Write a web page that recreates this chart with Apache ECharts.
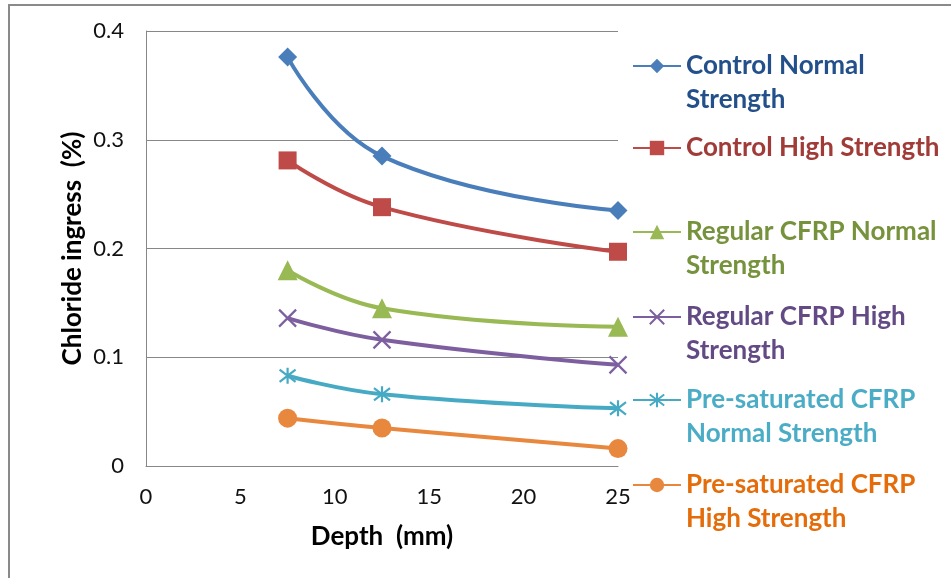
<!DOCTYPE html>
<html>
<head>
<meta charset="utf-8">
<script src="https://cdn.jsdelivr.net/npm/echarts@6/dist/echarts.min.js"></script>
<style>
  html, body { margin: 0; padding: 0; background: #fff; }
  #chart { width: 951px; height: 578px; }
</style>
</head>
<body>
<div id="chart"></div>
<script>
// Depth of the sampled layer (mm)
const depths = [7.5, 12.5, 25];

// Chloride content (%) at each depth
const controlNormal = [0.376, 0.285, 0.235];
const controlHigh = [0.281, 0.238, 0.197];
const regularNormal = [0.180, 0.145, 0.128];
const regularHigh = [0.136, 0.116, 0.093];
const presatNormal = [0.083, 0.066, 0.053];
const presatHigh = [0.044, 0.035, 0.016];

const seriesNames = [
  'Control Normal Strength',
  'Control High Strength',
  'Regular CFRP Normal Strength',
  'Regular CFRP High Strength',
  'Pre-saturated CFRP Normal Strength',
  'Pre-saturated CFRP High Strength'
];
// How each legend entry wraps
const legendLabels = [
  'Control Normal\nStrength',
  'Control High Strength',
  'Regular CFRP Normal\nStrength',
  'Regular CFRP High\nStrength',
  'Pre-saturated CFRP\nNormal Strength',
  'Pre-saturated CFRP\nHigh Strength'
];

const yTicks = { min: 0, max: 0.4, step: 0.1 };
const xTicks = { min: 0, max: 25, step: 5 };

const lineColors = ['#4A7EBB', '#BE4B48', '#98B954', '#7D5FA0', '#46AAC5', '#E8873E'];
const textColors = ['#23508A', '#A03B38', '#76923C', '#634A84', '#4BACC6', '#E46C0A'];
const allValues = [controlNormal, controlHigh, regularNormal, regularHigh, presatNormal, presatHigh];

const crossPath = 'path://M0,0L10,10M10,0L0,10';
const starPath = 'path://M0,0L10,10M10,0L0,10M5,-1.5L5,11.5';
const symbols = ['diamond', 'rect', 'triangle', crossPath, starPath, 'circle'];
const symbolSizes = [19, 18, 20, 17, 16, 19];

const FONT = 'Lato, "Open Sans", sans-serif';
const LEGEND_FS = 26;
const LINE_H = 34;
// vertical centre of each legend marker
const legendRows = [66, 148, 232, 317, 400, 485];

const series = seriesNames.map((name, i) => {
  const stroked = i === 3 || i === 4;
  return {
    name: name,
    type: 'line',
    smooth: 0.45,
    data: depths.map((d, k) => [d, allValues[i][k]]),
    symbol: symbols[i],
    symbolSize: symbolSizes[i],
    lineStyle: { color: lineColors[i], width: 4 },
    itemStyle: stroked
      ? { color: lineColors[i], borderColor: lineColors[i], borderWidth: 2.2 }
      : { color: lineColors[i], borderWidth: 0 },
    emphasis: { disabled: true },
    z: 10 - i
  };
});

// One legend block per series; wrapped entries get an empty leading line so
// that the first line of text sits level with the marker.
const legends = seriesNames.map((name, i) => {
  const twoLines = legendLabels[i].indexOf('\n') >= 0;
  return {
    show: true,
    data: [name],
    orient: 'vertical',
    left: 632,
    top: twoLines ? legendRows[i] - LINE_H * 1.5 : legendRows[i] - LINE_H / 2,
    padding: 0,
    itemWidth: 48,
    itemHeight: 18,
    selectedMode: false,
    formatter: () => (twoLines ? ' \n' : '') + legendLabels[i],
    textStyle: {
      color: textColors[i],
      fontFamily: FONT,
      fontSize: LEGEND_FS,
      fontWeight: 'bold',
      lineHeight: LINE_H
    }
  };
});

const chart = echarts.init(document.getElementById('chart'), null, { renderer: 'canvas' });
chart.setOption({
  animation: false,
  backgroundColor: '#ffffff',
  textStyle: { fontFamily: FONT },
  graphic: [{
    type: 'rect',
    shape: { x: 9, y: 5, width: 2000, height: 2000 },
    style: { fill: 'none', stroke: '#8a8a8a', lineWidth: 2 },
    silent: true
  }],
  grid: { left: 146, right: 333, top: 31, bottom: 112, containLabel: false },
  xAxis: {
    type: 'value',
    min: xTicks.min, max: xTicks.max, interval: xTicks.step,
    name: 'Depth  (mm)',
    nameLocation: 'middle',
    nameGap: 58,
    nameTextStyle: { fontFamily: FONT, fontSize: 26, fontWeight: 'bold', color: '#000' },
    axisLine: { show: true, lineStyle: { color: '#878787', width: 1 } },
    axisTick: { show: false },
    splitLine: { show: false },
    axisLabel: { fontFamily: FONT, fontSize: 22, color: '#111', margin: 20 }
  },
  yAxis: {
    type: 'value',
    min: yTicks.min, max: yTicks.max, interval: yTicks.step,
    name: 'Chloride ingress  (%)',
    nameLocation: 'middle',
    nameGap: 60,
    nameTextStyle: { fontFamily: FONT, fontSize: 26, fontWeight: 'bold', color: '#000' },
    axisLine: { show: true, lineStyle: { color: '#878787', width: 1 } },
    axisTick: { show: false },
    splitLine: { show: true, lineStyle: { color: '#878787', width: 1 } },
    axisLabel: { fontFamily: FONT, fontSize: 22, color: '#111', margin: 22 }
  },
  legend: legends,
  series: series
});
</script>
</body>
</html>
